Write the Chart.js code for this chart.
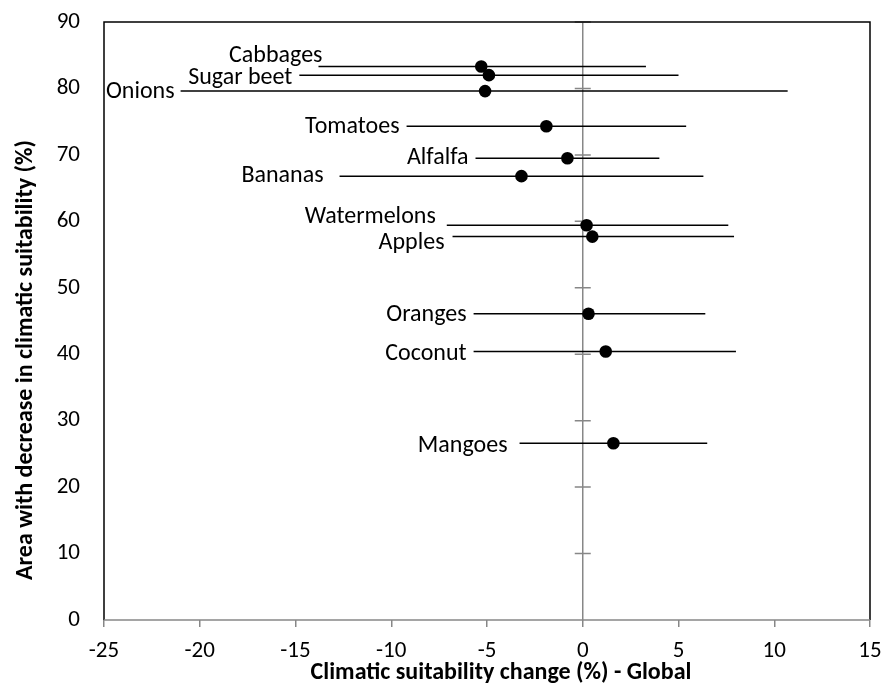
<!DOCTYPE html>
<html><head><meta charset="utf-8">
<script src="https://cdn.jsdelivr.net/npm/chart.js@4.4.1/dist/chart.umd.min.js"></script>
<style>html,body{margin:0;padding:0;background:#fff}#wrap{width:885px;height:688px;position:relative}</style>
</head><body><div id="wrap"><canvas id="c"></canvas></div>
<script>
// ---- data ----
const crops        = ['Cabbages','Sugar beet','Onions','Tomatoes','Alfalfa','Bananas','Watermelons','Apples','Oranges','Coconut','Mangoes'];
const areaDecrease = [83.3, 82.0, 79.6, 74.3, 69.5, 66.8, 59.4, 57.7, 46.1, 40.4, 26.6];
const suitChange   = [-5.3, -4.9, -5.1, -1.9, -0.8, -3.2, 0.2, 0.5, 0.3, 1.2, 1.6];
const changeLow    = [-13.8, -14.8, -21.0, -9.2, -5.6, -12.7, -7.1, -6.8, -5.7, -5.7, -3.3];
const changeHigh   = [3.3, 5.0, 10.7, 5.4, 4.0, 6.3, 7.6, 7.9, 6.4, 8.0, 6.5];
const xTickValues  = [-25, -20, -15, -10, -5, 0, 5, 10, 15];
const yTickValues  = [0, 10, 20, 30, 40, 50, 60, 70, 80, 90];
const xTitle = 'Climatic suitability change (%) - Global';
const yTitle = 'Area with decrease in climatic suitability (%)';

// ---- layout tweaks for the crop labels (pixel nudges, not data) ----
const labelNudge = {
  'Cabbages':[-4,-12.5], 'Sugar beet':[7,1], 'Onions':[6,-1], 'Tomatoes':[7,-1],
  'Alfalfa':[7,-2], 'Bananas':[16,-2.5], 'Watermelons':[11,-10], 'Apples':[8,4],
  'Oranges':[7,-1], 'Coconut':[7,0], 'Mangoes':[12,1]
};

const FONT = 'Carlito, Lato, sans-serif';
const GRAY = '#878787';
const FS = 24;
const TICK_FS = 23;

const datasets = [{
  label: 'points',
  data: crops.map((c,i)=>({x: suitChange[i], y: areaDecrease[i]})),
  pointRadius: 6.3, pointHoverRadius: 6.3,
  pointBackgroundColor: '#000', pointBorderColor: '#000', pointBorderWidth: 0,
  showLine: false
}];
crops.forEach((c,i)=>{
  datasets.push({
    label: c,
    data: [{x: changeLow[i], y: areaDecrease[i]}, {x: changeHigh[i], y: areaDecrease[i]}],
    showLine: true, borderColor: '#000', borderWidth: 1.5,
    pointRadius: 0, pointHoverRadius: 0, fill: false
  });
});

const overlay = {
  id: 'overlay',
  beforeDatasetsDraw(chart){
    const {ctx, chartArea:a, scales:{x, y}} = chart;
    const x0 = x.getPixelForValue(0);
    ctx.save();
    ctx.strokeStyle = GRAY; ctx.lineWidth = 1.5;
    ctx.beginPath();
    ctx.moveTo(x0, a.top); ctx.lineTo(x0, a.bottom);
    yTickValues.forEach(v=>{
      if (v === 0) return;
      const py = y.getPixelForValue(v);
      ctx.moveTo(x0-8, py); ctx.lineTo(x0+8, py);
    });
    ctx.stroke();
    ctx.restore();
  },
  afterDatasetsDraw(chart){
    const {ctx, scales:{x, y}} = chart;
    ctx.save();
    ctx.font = FS + 'px ' + FONT;
    ctx.fillStyle = '#000';
    ctx.textAlign = 'right';
    ctx.textBaseline = 'alphabetic';
    const cap = ctx.measureText('H').actualBoundingBoxAscent;
    crops.forEach((c,i)=>{
      const [gap, dy] = labelNudge[c];
      const px = x.getPixelForValue(changeLow[i]) - gap;
      const py = y.getPixelForValue(areaDecrease[i]) + dy + cap/2;
      ctx.fillText(c, px, py);
    });
    ctx.restore();
  },
  afterDraw(chart){
    const {ctx, chartArea:a} = chart;
    ctx.save();
    ctx.lineWidth = 1.5;
    ctx.strokeStyle = '#000';
    ctx.beginPath();
    ctx.moveTo(a.left, a.bottom); ctx.lineTo(a.left, a.top); ctx.lineTo(a.right, a.top); ctx.lineTo(a.right, a.bottom);
    ctx.stroke();
    ctx.strokeStyle = GRAY;
    ctx.beginPath(); ctx.moveTo(a.left, a.bottom); ctx.lineTo(a.right, a.bottom); ctx.stroke();
    // axis titles
    ctx.fillStyle = '#000';
    ctx.font = 'bold ' + FS + 'px ' + FONT;
    ctx.textAlign = 'center'; ctx.textBaseline = 'alphabetic';
    ctx.fillText(xTitle, 501, 679);
    ctx.translate(31.5, 360); ctx.rotate(-Math.PI/2);
    ctx.fillText(yTitle, 0, 0);
    ctx.restore();
  }
};

new Chart(document.getElementById('c'), {
  type: 'scatter',
  data: { datasets },
  options: {
    responsive: true, maintainAspectRatio: false, animation: false,
    layout: { padding: { top: 22, right: 15, left: 0, bottom: 0 } },
    plugins: { legend: { display: false }, tooltip: { enabled: false } },
    events: [],
    scales: {
      x: {
        type: 'linear', min: -25, max: 15,
        afterBuildTicks(s){ s.ticks = xTickValues.map(v=>({value:v})); },
        afterFit(s){ s.height = 68; s.paddingLeft = 0; s.paddingRight = 0; },
        grid: { drawOnChartArea: false, color: GRAY, lineWidth: 1.5, tickLength: 7 },
        border: { display: false },
        ticks: { color: '#000', font: { family: FONT, size: TICK_FS }, padding: 10, maxRotation: 0 }
      },
      y: {
        type: 'linear', min: 0, max: 90,
        afterBuildTicks(s){ s.ticks = yTickValues.map(v=>({value:v})); },
        afterFit(s){ s.width = 104; s.paddingTop = 0; s.paddingBottom = 0; },
        grid: { display: false, drawTicks: false },
        border: { display: false },
        ticks: { color: '#000', font: { family: FONT, size: TICK_FS }, padding: 24 }
      }
    }
  },
  plugins: [overlay]
});
</script>
</body></html>
